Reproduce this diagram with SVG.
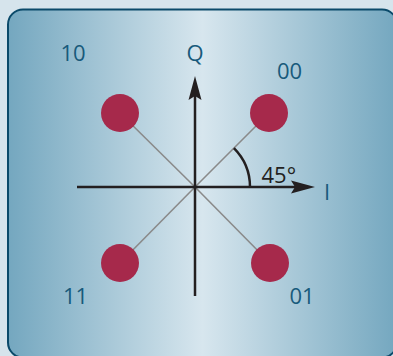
<svg xmlns="http://www.w3.org/2000/svg" width="393" height="356" viewBox="0 0 393 356">
<style>
.lbl{font-family:"Open Sans","Noto Sans",sans-serif;font-size:22px;fill:#185a7b;text-anchor:middle}
.ang{font-family:"Open Sans","Noto Sans",sans-serif;font-size:22px;fill:#231f20}
.axis{stroke:#231f20;stroke-width:2.5;fill:none}
.diag{stroke:#8a8a8a;stroke-width:1.6;fill:none}
.pt{fill:#a6294b}
</style>
<defs>
<linearGradient id="bg" x1="0" y1="0" x2="1" y2="0">
<stop offset="0" stop-color="#74a7bf"/>
<stop offset="0.5" stop-color="#d7e6ee"/>
<stop offset="1" stop-color="#74a7bf"/>
</linearGradient>
</defs>
<rect x="0" y="0" width="393" height="356" fill="#d6e4ec"/>
<rect x="8" y="9.5" width="389" height="348" rx="15" ry="15" fill="url(#bg)" stroke="#0b4a6a" stroke-width="2"/>
<g id="connectors">
<line class="diag" x1="195" y1="187" x2="120" y2="113"/>
<line class="diag" x1="195" y1="187" x2="269" y2="113"/>
<line class="diag" x1="195" y1="187" x2="120" y2="263"/>
<line class="diag" x1="195" y1="187" x2="270" y2="263"/>
<line class="axis" x1="77" y1="187" x2="300" y2="187"/>
<path d="M315,187 L291,180.5 L295,187 L291,193.5 Z" fill="#231f20"/>
<line class="axis" x1="195" y1="296" x2="195" y2="92"/>
<path d="M195,76 L188.5,100 L195,96 L201.5,100 Z" fill="#231f20"/>
<path class="axis" d="M233.9,148.1 A55,55 0 0 1 250,187"/>
</g>
<g id="axis-q"><text class="lbl" x="195" y="61">Q</text></g>
<g id="axis-i"><text class="lbl" x="327" y="200">I</text></g>
<g id="angle"><text class="ang" x="261.5" y="183">45°</text></g>
<g id="p10"><circle class="pt" cx="120" cy="113" r="19"/><text class="lbl" x="73" y="61">10</text></g>
<g id="p00"><circle class="pt" cx="269" cy="113" r="19"/><text class="lbl" x="289.5" y="79">00</text></g>
<g id="p11"><circle class="pt" cx="120" cy="263" r="19"/><text class="lbl" x="75.5" y="304">11</text></g>
<g id="p01"><circle class="pt" cx="270" cy="263" r="19"/><text class="lbl" x="302" y="304">01</text></g>
</svg>
